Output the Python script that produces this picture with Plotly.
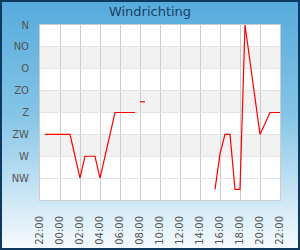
import plotly.graph_objects as go

# Data (wind direction in degrees, N=0)
times = [
    "2024-01-01 22:30", "2024-01-02 01:00", "2024-01-02 02:00", "2024-01-02 02:30",
    "2024-01-02 03:30", "2024-01-02 04:00", "2024-01-02 05:30", "2024-01-02 07:30",
    None,
    "2024-01-02 08:00", "2024-01-02 08:30",
    None,
    "2024-01-02 15:30", "2024-01-02 16:00", "2024-01-02 16:30", "2024-01-02 17:00",
    "2024-01-02 17:30", "2024-01-02 18:00", "2024-01-02 18:30", "2024-01-02 20:00",
    "2024-01-02 21:00", "2024-01-02 22:00",
]
directions = [
    225, 225, 315, 270,
    270, 315, 180, 180,
    None,
    158, 158,
    None,
    338, 265, 225, 225,
    338, 338, 0, 225,
    180, 180,
]
dir_vals = [0, 45, 90, 135, 180, 225, 270, 315]
dir_labels = ["N", "NO", "O", "ZO", "Z", "ZW", "W", "NW"]
band_ranges = [(45, 90), (135, 180), (225, 270)]

W, H = 300, 250
L, R, T, B = 40, 20, 25, 50
PW, PH = W - L - R, H - T - B

svg = (
    "<svg xmlns='http://www.w3.org/2000/svg' width='300' height='250'>"
    "<defs><linearGradient id='g' x1='0' y1='0' x2='0' y2='1'>"
    "<stop offset='0' stop-color='%2356ABDC'/>"
    "<stop offset='0.45' stop-color='%2384C4E6'/>"
    "<stop offset='1' stop-color='%23F7FBFE'/>"
    "</linearGradient></defs>"
    "<rect x='1' y='1' width='298' height='248' fill='url(%23g)' stroke='%230E3A62' stroke-width='2'/>"
    "</svg>"
)
src = "data:image/svg+xml;charset=utf-8," + svg.replace("<", "%3C").replace(">", "%3E").replace(" ", "%20")

fig = go.Figure()
fig.add_trace(go.Scatter(
    x=times, y=directions, mode="lines",
    line=dict(color="#FF0000", width=1.2),
    connectgaps=False, hoverinfo="skip", showlegend=False,
))

fig.add_layout_image(dict(
    source=src, xref="paper", yref="paper",
    x=-L / PW, y=1 + T / PH, sizex=W / PW, sizey=H / PH,
    xanchor="left", yanchor="top", sizing="stretch", layer="below",
))

shapes = [dict(type="rect", xref="paper", yref="paper", x0=0, x1=1, y0=0, y1=1,
               fillcolor="white", line=dict(width=0), layer="below")]
for a, b in band_ranges:
    shapes.append(dict(type="rect", xref="paper", yref="y", x0=0, x1=1, y0=a, y1=b,
                       fillcolor="#F2F2F2", line=dict(width=0), layer="below"))
fig.update_layout(shapes=shapes)

fig.update_layout(
    width=W, height=H,
    margin=dict(l=L, r=R, t=T, b=B, autoexpand=False),
    paper_bgcolor="rgba(0,0,0,0)",
    plot_bgcolor="rgba(0,0,0,0)",
    title=dict(text="Windrichting", x=0.5, xref="container", xanchor="center",
               y=1 - 11 / H, yref="container", yanchor="middle",
               font=dict(family="DejaVu Sans", size=13, color="#1C3F66")),
    font=dict(family="DejaVu Sans", size=10, color="#555555"),
    xaxis=dict(
        type="date", automargin=False,
        range=["2024-01-01 22:00", "2024-01-02 22:00"],
        tick0="2024-01-01 22:00", dtick=7200000, tickformat="%H:%M",
        tickangle=-90, showgrid=True, gridcolor="#CCCCCC", gridwidth=1,
        showline=True, linecolor="#CCCCCC", linewidth=1, mirror=True,
        ticks="", ticklabelstandoff=11, zeroline=False,
        tickfont=dict(family="DejaVu Sans", size=10, color="#555555"),
    ),
    yaxis=dict(
        range=[360, 0], tickvals=dir_vals, ticktext=dir_labels, automargin=False,
        showgrid=True, gridcolor="#E4E4E4", gridwidth=1,
        showline=True, linecolor="#CCCCCC", linewidth=1, mirror=True,
        ticks="", ticklabelstandoff=8, zeroline=False,
        tickfont=dict(family="DejaVu Sans", size=10, color="#555555"),
    ),
)

fig.write_html("out.html")
